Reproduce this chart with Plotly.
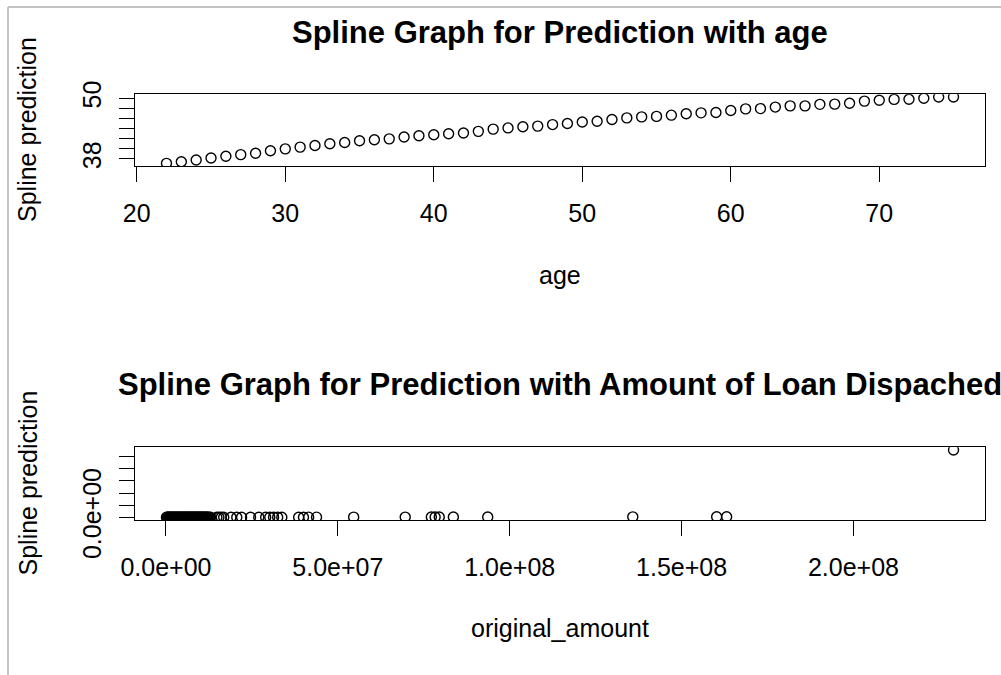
import plotly.graph_objects as go

# age vs spline prediction (top panel)
age = [22, 23, 24, 25, 26, 27, 28, 29, 30, 31, 32, 33, 34, 35, 36, 37, 38, 39,
       40, 41, 42, 43, 44, 45, 46, 47, 48, 49, 50, 51, 52, 53, 54, 55, 56, 57,
       58, 59, 60, 61, 62, 63, 64, 65, 66, 67, 68, 69, 70, 71, 72, 73, 74, 75]
age_pred = [37.14, 37.46, 37.80, 38.20, 38.54, 38.86, 39.14, 39.62, 40.00, 40.34,
            40.66, 41.00, 41.26, 41.60, 41.80, 41.98, 42.34, 42.60, 42.80, 43.00,
            43.14, 43.46, 43.90, 44.14, 44.38, 44.50, 44.80, 45.00, 45.30, 45.46,
            45.80, 46.12, 46.32, 46.42, 46.66, 46.94, 47.12, 47.18, 47.58, 47.90,
            47.96, 48.26, 48.50, 48.50, 48.80, 48.84, 49.02, 49.44, 49.60, 49.78,
            49.82, 50.00, 50.24, 50.26]
age_ticks = [20, 30, 40, 50, 60, 70]
age_yticks = [38, 40, 42, 44, 46, 48, 50]
age_yticktext = ["38", "", "", "", "", "", "50"]

# original_amount vs spline prediction (bottom panel)
# small loans, packed so tightly they look like a solid bar
small_amount = [150000, 380000, 560000, 820000, 1010000, 1230000, 1400000, 1650000, 1820000, 2040000,
                2210000, 2450000, 2600000, 2830000, 3020000, 3190000, 3440000, 3610000, 3850000, 4010000,
                4230000, 4380000, 4620000, 4810000, 5050000, 5220000, 5430000, 5580000, 5820000, 6010000,
                6240000, 6390000, 6620000, 6830000, 7010000, 7250000, 7400000, 7630000, 7810000, 8040000,
                8200000, 8430000, 8610000, 8820000, 9000000, 9240000, 9410000, 9630000, 9800000, 10050000,
                10220000, 10400000, 10640000, 10810000, 11030000, 11200000, 11450000, 11600000, 11840000, 12030000,
                12280000, 12600000, 12950000]
small_pred = [160, 390, 570, 830, 1020, 1240, 1410, 1660, 1830, 2050,
              2220, 2460, 2610, 2840, 3030, 3200, 3450, 3620, 3860, 4020,
              4240, 4390, 4630, 4820, 5060, 5230, 5440, 5590, 5830, 6020,
              6250, 6400, 6630, 6840, 7020, 7260, 7410, 7640, 7820, 8050,
              8210, 8440, 8620, 8830, 9010, 9250, 9420, 9640, 9810, 10060,
              10230, 10410, 10650, 10820, 11040, 11210, 11460, 11610, 11850, 12040,
              12290, 12610, 12960]
large_amount = [14800000, 15400000, 16100000, 16800000, 18900000, 20600000, 22000000, 24600000,
                27000000, 29000000, 30200000, 31300000, 32500000, 33700000, 38600000, 40000000,
                41500000, 43800000, 54600000, 69600000, 77200000, 78300000, 79500000,
                83600000, 93600000, 135800000, 160200000, 163100000, 229100000]
large_pred = [20000, 21000, 22000, 23000, 26000, 28000, 30000, 33000,
              36000, 39000, 41000, 42000, 44000, 45000, 52000, 54000,
              56000, 59000, 74000, 95000, 105000, 107000, 108000,
              114000, 128000, 186000, 220000, 224000, 27800000]
amount_ticks = [0, 50000000, 100000000, 150000000, 200000000]
amount_ticktext = ["0.0e+00", "5.0e+07", "1.0e+08", "1.5e+08", "2.0e+08"]
amount_yticks = [0, 5000000, 10000000, 15000000, 20000000, 25000000]
amount_yticktext = ["0.0e+00", "", "", "", "", ""]

amount = small_amount + large_amount
amount_pred = small_pred + large_pred

W, H = 1001, 675
FONT = "Liberation Sans, Arial, sans-serif"


def px(x):
    return x / W


def py(y):
    return 1 - y / H


def pad_range(vals):
    # R-style 4% padding around the data
    lo, hi = min(vals), max(vals)
    d = (hi - lo) * 0.04
    return [lo - d, hi + d]


marker = dict(symbol="circle-open", size=10, color="black", line=dict(width=1.4, color="black"))

fig = go.Figure()
fig.add_trace(go.Scatter(x=age, y=age_pred, mode="markers", marker=marker,
                         xaxis="x", yaxis="y", showlegend=False))
fig.add_trace(go.Scatter(x=amount, y=amount_pred, mode="markers", marker=marker,
                         xaxis="x2", yaxis="y2", showlegend=False))

axis_style = dict(showgrid=False, zeroline=False, showline=True, mirror=True,
                  automargin=False,
                  linecolor="black", linewidth=1.4, ticks="outside", ticklen=15,
                  tickwidth=1.4, tickcolor="black",
                  tickfont=dict(family=FONT, size=25, color="black"))

fig.update_layout(
    width=W, height=H,
    margin=dict(l=0, r=0, t=0, b=0),
    paper_bgcolor="white", plot_bgcolor="white",
    xaxis=dict(domain=[px(135), px(985)], anchor="y", range=pad_range(age),
               tickvals=age_ticks, ticklabelstandoff=10, **axis_style),
    yaxis=dict(domain=[py(166), py(94.3)], anchor="x", range=pad_range(age_pred),
               tickvals=age_yticks, ticktext=age_yticktext, tickangle=-90,
               ticklabelstandoff=8, **axis_style),
    xaxis2=dict(domain=[px(135), px(985)], anchor="y2", range=pad_range(amount),
                tickvals=amount_ticks, ticktext=amount_ticktext, ticklabelstandoff=10, **axis_style),
    yaxis2=dict(domain=[py(520), py(447.3)], anchor="x2", range=pad_range(amount_pred),
                tickvals=amount_yticks, ticktext=amount_yticktext, tickangle=-90,
                ticklabelstandoff=8, **axis_style),
)


def label(text, x, y, size=25, bold=False, angle=0):
    fig.add_annotation(text="<b>%s</b>" % text if bold else text,
                       x=px(x), y=py(y), xref="paper", yref="paper",
                       showarrow=False, textangle=angle,
                       xanchor="center", yanchor="middle",
                       font=dict(family=FONT, size=size, color="black"))


label("Spline Graph for Prediction with age", 560, 32.5, size=31, bold=True)
label("Spline Graph for Prediction with Amount of Loan Dispached", 560, 384, size=31, bold=True)
label("age", 560, 275)
label("original_amount", 560, 628)
label("Spline prediction", 27, 130, angle=-90)
label("Spline prediction", 27, 483.5, angle=-90)

# light grey frame on the left and top
fig.add_shape(type="line", xref="paper", yref="paper", x0=px(8), x1=px(1001), y0=py(7), y1=py(7),
              line=dict(color="#c4c4c4", width=2))
fig.add_shape(type="line", xref="paper", yref="paper", x0=px(8), x1=px(8), y0=py(7), y1=py(675),
              line=dict(color="#c4c4c4", width=2))

fig.write_html("out.html", config={"displayModeBar": False},
               post_script="document.body.style.margin='0';")
